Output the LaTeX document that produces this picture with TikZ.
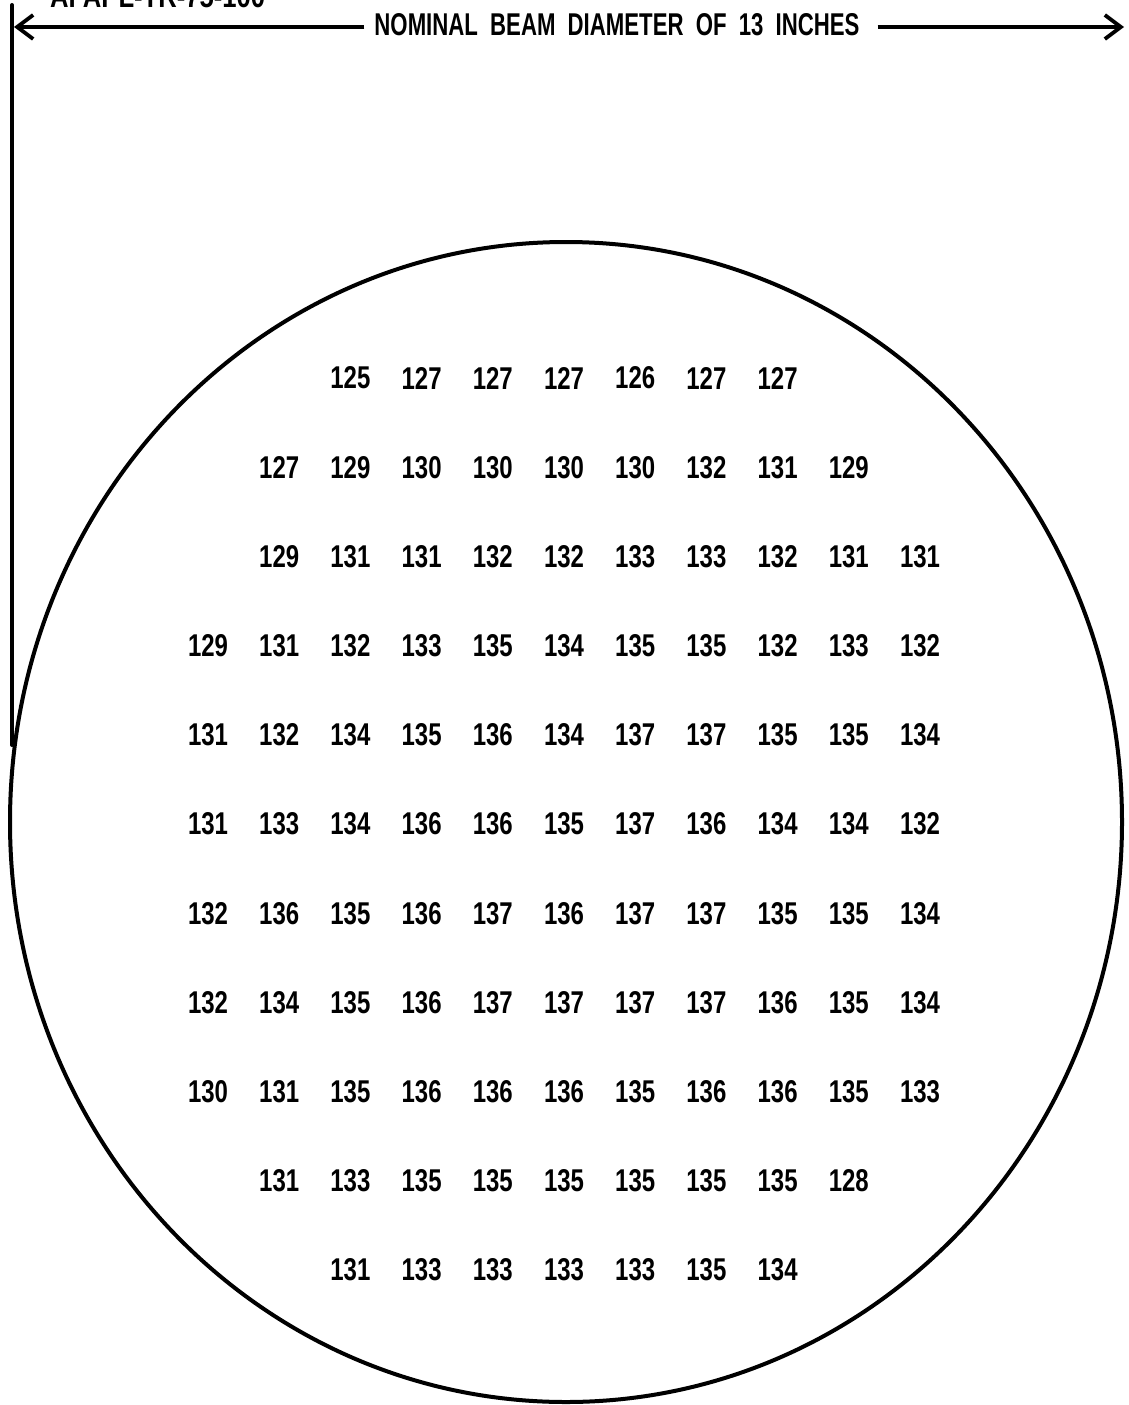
\documentclass[tikz,border=0pt]{standalone}
\usepackage{graphicx}
\usepackage{fontspec}
\setmainfont{Liberation Sans}
\usetikzlibrary{arrows.meta,shapes.geometric}
\newcommand\vv[1]{\resizebox{40pt}{22pt}{\bfseries #1}}
\newcommand\wsp{\hspace{0.55em}}
\def\skipmark{-}
\tikzset{
  val/.style={inner sep=0pt, anchor=center},
  heavy/.style={line width=4pt, line cap=round},
  dimarrow/.style={line width=3.8pt, -{Straight Barb[length=16pt,width=24pt,line width=3.8pt]}}
}
\begin{document}
\begin{tikzpicture}[x=1pt,y=-1pt]
\useasboundingbox (0,0) rectangle (1128,1405);
\clip (0,0) rectangle (1128,1405);
% report number, cut at top
\node[inner sep=0pt, anchor=base west] (rep) at (50,8) {\resizebox{215pt}{22pt}{\bfseries AFAPL-TR-75-100}};
% vertical extension line
\coordinate (vtop) at (12,5);
\coordinate (vbot) at (12,745);
\draw[heavy] (vtop) -- (vbot);
% dimension line
\coordinate (L) at (14,27);
\coordinate (R) at (1124,27);
\node[inner sep=0pt] (title) at (617,25) {\resizebox{485pt}{22pt}{\bfseries NOMINAL\wsp BEAM\wsp DIAMETER\wsp OF\wsp 13\wsp INCHES}};
\draw[dimarrow] ([xshift=-10pt]title.west|-L) -- (L);
\draw[dimarrow] ([xshift=18pt]title.east|-R) -- (R);
% beam circle
\node[draw, ellipse, minimum width=1112pt, minimum height=1160pt, inner sep=0pt, line width=4pt] (beam) at (566,822) {};
% values
\foreach \row [count=\r] in {
 {-,-,125,127,127,127,126,127,127,-,-},
 {-,127,129,130,130,130,130,132,131,129,-},
 {-,129,131,131,132,132,133,133,132,131,131},
 {129,131,132,133,135,134,135,135,132,133,132},
 {131,132,134,135,136,134,137,137,135,135,134},
 {131,133,134,136,136,135,137,136,134,134,132},
 {132,136,135,136,137,136,137,137,135,135,134},
 {132,134,135,136,137,137,137,137,136,135,134},
 {130,131,135,136,136,136,135,136,136,135,133},
 {-,131,133,135,135,135,135,135,135,128,-},
 {-,-,131,133,133,133,133,135,134,-,-}} {
  \foreach \v [count=\c] in \row {
    \ifx\v\skipmark\else
      \node[val] (v-\r-\c) at ({208+71.2*(\c-1)},{378+89.2*(\r-1)}) {\vv{\v}};
    \fi
  }
}
\end{tikzpicture}
\end{document}
